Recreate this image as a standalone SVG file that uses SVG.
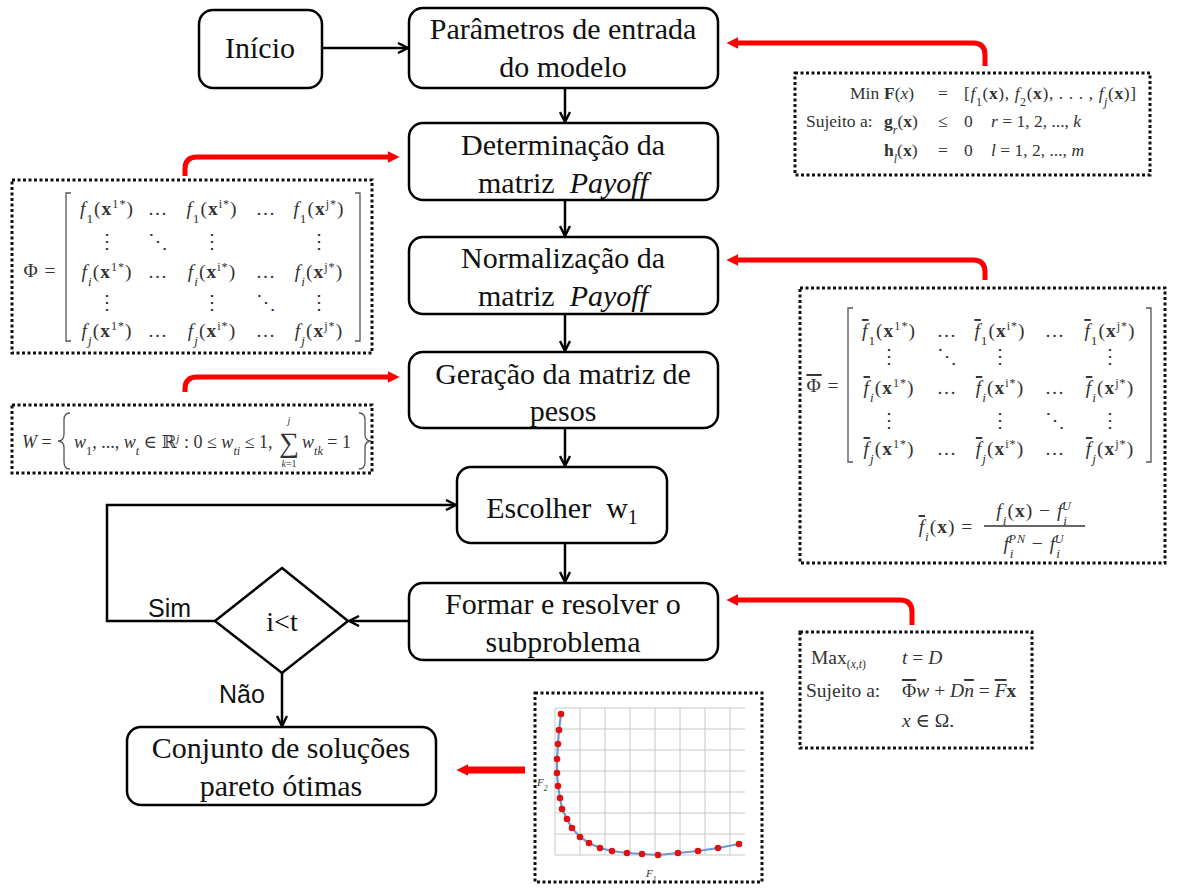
<svg xmlns="http://www.w3.org/2000/svg" width="1177" height="889" viewBox="0 0 1177 889">
  <style>
    .box { fill: #fff; stroke: #000; stroke-width: 2.5; }
    .lbl { font-family: "Liberation Serif", "Times New Roman", serif; font-size: 30px; fill: #111; text-anchor: middle; }
    .sans { font-family: "Liberation Sans", Arial, sans-serif; font-size: 25px; fill: #111; }
    .flow { fill: none; stroke: #000; stroke-width: 2.5; marker-end: url(#chev); }
    .red { fill: none; stroke: #f00; stroke-width: 5; marker-end: url(#tri); }
    .dot { fill: #fff; stroke: #111; stroke-width: 3; stroke-dasharray: 3 2.5; }
    .m { font-family: "Liberation Serif", "DejaVu Serif", serif; fill: #333; }
    .mx { letter-spacing: 1px; }
    .c { text-anchor: middle; }
    .i { font-style: italic; }
    .b { font-weight: bold; }
    .sb { font-size: 68%; baseline-shift: sub; }
    .sp { font-size: 62%; baseline-shift: super; }
    .ov { text-decoration: overline; }
    .brk { fill: none; stroke: #555; stroke-width: 1.3; }
    .grid { stroke: #c8c8c8; stroke-width: 1; }
  </style>
  <defs>
    <marker id="chev" viewBox="0 0 12 12" refX="11" refY="6" markerWidth="12" markerHeight="12" markerUnits="userSpaceOnUse" orient="auto">
      <path d="M1,1 L11,6 L1,11" fill="none" stroke="#000" stroke-width="2.4"/>
    </marker>
    <marker id="tri" viewBox="0 0 10 10" refX="2" refY="5" markerWidth="12" markerHeight="14" markerUnits="userSpaceOnUse" orient="auto">
      <path d="M0,0 L10,5 L0,10 z" fill="#f00"/>
    </marker>
  </defs>

  <!-- flow connectors -->
  <g id="connectors">
    <path class="flow" d="M322,48 H408"/>
    <path class="flow" d="M565,88 V122"/>
    <path class="flow" d="M565,200 V236"/>
    <path class="flow" d="M565,314 V351"/>
    <path class="flow" d="M565,428 V466"/>
    <path class="flow" d="M565,543 V582"/>
    <path class="flow" d="M409,621 H349"/>
    <path class="flow" d="M215,621 H107 V505 H456"/>
    <path class="flow" d="M282,673 V726"/>
    <text class="sans" x="148" y="617">Sim</text>
    <text class="sans" x="219" y="703">Não</text>
    <!-- annotation arrows -->
    <path class="red" d="M985,66 V55 Q985,43 973,43 H736"/>
    <path class="red" d="M185,176 V169 Q185,157 197,157 H390"/>
    <path class="red" d="M985,280 V272 Q985,260 973,260 H736"/>
    <path class="red" d="M185,392 V389 Q185,377 197,377 H390"/>
    <path class="red" d="M912,625 V612 Q912,600 900,600 H736"/>
    <path class="red" d="M525,770 H466" style="stroke-width:7"/>
  </g>

  <!-- process nodes -->
  <g id="inicio">
    <rect class="box" x="199" y="10" width="123" height="78" rx="14"/>
    <text class="lbl" x="260" y="58">Início</text>
  </g>
  <g id="parametros">
    <rect class="box" x="409" y="8" width="309" height="80" rx="14"/>
    <text class="lbl" x="563" y="39">Parâmetros de entrada</text>
    <text class="lbl" x="563" y="77">do modelo</text>
  </g>
  <g id="determinacao">
    <rect class="box" x="409" y="123" width="309" height="77" rx="14"/>
    <text class="lbl" x="563" y="155">Determinação da</text>
    <text class="lbl" x="563" y="193">matriz&#160; <tspan class="i">Payoff</tspan></text>
  </g>
  <g id="normalizacao">
    <rect class="box" x="409" y="237" width="309" height="77" rx="14"/>
    <text class="lbl" x="563" y="268">Normalização da</text>
    <text class="lbl" x="563" y="306">matriz&#160; <tspan class="i">Payoff</tspan></text>
  </g>
  <g id="geracao">
    <rect class="box" x="409" y="352" width="309" height="76" rx="14"/>
    <text class="lbl" x="563" y="384">Geração da matriz de</text>
    <text class="lbl" x="563" y="421">pesos</text>
  </g>
  <g id="escolher">
    <rect class="box" x="457" y="467" width="210" height="76" rx="14"/>
    <text class="lbl" x="562" y="518">Escolher&#160; w<tspan style="font-size:20px" baseline-shift="-6">1</tspan></text>
  </g>
  <g id="formar">
    <rect class="box" x="409" y="583" width="309" height="77" rx="14"/>
    <text class="lbl" x="563" y="614">Formar e resolver o</text>
    <text class="lbl" x="563" y="652">subproblema</text>
  </g>
  <g id="decisao">
    <polygon class="box" points="282,568 348,621 282,673 215,621"/>
    <text class="lbl" x="282" y="631" style="font-size:28px">i&lt;t</text>
  </g>
  <g id="conjunto">
    <rect class="box" x="127" y="727" width="309" height="78" rx="14"/>
    <text class="lbl" x="281" y="758">Conjunto de soluções</text>
    <text class="lbl" x="281" y="796">pareto ótimas</text>
  </g>

  <!-- model formulation -->
  <g id="modelo">
    <rect class="dot" x="795" y="73" width="355" height="102"/>
    <g class="m" style="font-size:17.5px">
      <text x="850" y="99">Min</text>
      <text x="884" y="99"><tspan class="b">F</tspan>(<tspan class="i">x</tspan>)</text>
      <text x="938" y="99">=</text>
      <text x="964" y="99" class="mx" style="letter-spacing:0.6px">[<tspan class="i">f</tspan><tspan class="sb">1</tspan>(<tspan class="b">x</tspan>), <tspan class="i">f</tspan><tspan class="sb">2</tspan>(<tspan class="b">x</tspan>), . . . , <tspan class="i">f</tspan><tspan class="sb i">j</tspan>(<tspan class="b">x</tspan>)]</text>
      <text x="806" y="127">Sujeito a:</text>
      <text x="884" y="127"><tspan class="b">g</tspan><tspan class="sb i">r</tspan>(<tspan class="b">x</tspan>)</text>
      <text x="938" y="127">≤</text>
      <text x="964" y="127">0</text>
      <text x="991" y="127"><tspan class="i">r</tspan> = 1, 2, ..., <tspan class="i">k</tspan></text>
      <text x="884" y="156"><tspan class="b">h</tspan><tspan class="sb i">l</tspan>(<tspan class="b">x</tspan>)</text>
      <text x="938" y="156">=</text>
      <text x="964" y="156">0</text>
      <text x="991" y="156"><tspan class="i">l</tspan> = 1, 2, ..., <tspan class="i">m</tspan></text>
    </g>
  </g>

  <!-- payoff matrix -->
  <g id="payoff">
    <rect class="dot" x="12" y="180" width="360" height="173"/>
    <path class="brk" d="M71,193 H66 V341 H71 M355,193 H360 V341 H355"/>
    <g class="m c mx" style="font-size:19.5px">
      <text x="40" y="277">Φ =</text>
      <text x="107" y="215"><tspan class="i">f</tspan><tspan class="sb">1</tspan>(<tspan class="b">x</tspan><tspan class="sp">1*</tspan>)</text>
      <text x="158" y="215">…</text>
      <text x="212" y="215"><tspan class="i">f</tspan><tspan class="sb">1</tspan>(<tspan class="b">x</tspan><tspan class="sp">i*</tspan>)</text>
      <text x="266" y="215">…</text>
      <text x="319" y="215"><tspan class="i">f</tspan><tspan class="sb">1</tspan>(<tspan class="b">x</tspan><tspan class="sp">j*</tspan>)</text>
      <text x="107" y="248">⋮</text>
      <text x="158" y="248">⋱</text>
      <text x="212" y="248">⋮</text>
      <text x="319" y="248">⋮</text>
      <text x="107" y="278"><tspan class="i">f</tspan><tspan class="sb i">i</tspan>(<tspan class="b">x</tspan><tspan class="sp">1*</tspan>)</text>
      <text x="158" y="278">…</text>
      <text x="212" y="278"><tspan class="i">f</tspan><tspan class="sb i">i</tspan>(<tspan class="b">x</tspan><tspan class="sp">i*</tspan>)</text>
      <text x="266" y="278">…</text>
      <text x="319" y="278"><tspan class="i">f</tspan><tspan class="sb i">i</tspan>(<tspan class="b">x</tspan><tspan class="sp">j*</tspan>)</text>
      <text x="107" y="309">⋮</text>
      <text x="212" y="309">⋮</text>
      <text x="266" y="309">⋱</text>
      <text x="319" y="309">⋮</text>
      <text x="107" y="337"><tspan class="i">f</tspan><tspan class="sb i">j</tspan>(<tspan class="b">x</tspan><tspan class="sp">1*</tspan>)</text>
      <text x="158" y="337">…</text>
      <text x="212" y="337"><tspan class="i">f</tspan><tspan class="sb i">j</tspan>(<tspan class="b">x</tspan><tspan class="sp">i*</tspan>)</text>
      <text x="266" y="337">…</text>
      <text x="319" y="337"><tspan class="i">f</tspan><tspan class="sb i">j</tspan>(<tspan class="b">x</tspan><tspan class="sp">j*</tspan>)</text>
    </g>
  </g>

  <!-- normalised payoff matrix -->
  <g id="payoff-normalizada">
    <rect class="dot" x="800" y="288" width="365" height="275"/>
    <path class="brk" d="M853,308 H848 V462 H853 M1146,308 H1151 V462 H1146"/>
    <g class="m c mx" style="font-size:19.5px">
      <text x="823" y="392"><tspan class="ov">Φ</tspan> =</text>
      <text x="889" y="337"><tspan class="i ov">f</tspan><tspan class="sb">1</tspan>(<tspan class="b">x</tspan><tspan class="sp">1*</tspan>)</text>
      <text x="947" y="337">…</text>
      <text x="1000" y="337"><tspan class="i ov">f</tspan><tspan class="sb">1</tspan>(<tspan class="b">x</tspan><tspan class="sp">i*</tspan>)</text>
      <text x="1055" y="337">…</text>
      <text x="1110" y="337"><tspan class="i ov">f</tspan><tspan class="sb">1</tspan>(<tspan class="b">x</tspan><tspan class="sp">j*</tspan>)</text>
      <text x="889" y="363">⋮</text>
      <text x="947" y="363">⋱</text>
      <text x="1000" y="363">⋮</text>
      <text x="1110" y="363">⋮</text>
      <text x="889" y="394"><tspan class="i ov">f</tspan><tspan class="sb i">i</tspan>(<tspan class="b">x</tspan><tspan class="sp">1*</tspan>)</text>
      <text x="947" y="394">…</text>
      <text x="1000" y="394"><tspan class="i ov">f</tspan><tspan class="sb i">i</tspan>(<tspan class="b">x</tspan><tspan class="sp">i*</tspan>)</text>
      <text x="1055" y="394">…</text>
      <text x="1110" y="394"><tspan class="i ov">f</tspan><tspan class="sb i">i</tspan>(<tspan class="b">x</tspan><tspan class="sp">j*</tspan>)</text>
      <text x="889" y="427">⋮</text>
      <text x="1000" y="427">⋮</text>
      <text x="1055" y="427">⋱</text>
      <text x="1110" y="427">⋮</text>
      <text x="889" y="455"><tspan class="i ov">f</tspan><tspan class="sb i">j</tspan>(<tspan class="b">x</tspan><tspan class="sp">1*</tspan>)</text>
      <text x="947" y="455">…</text>
      <text x="1000" y="455"><tspan class="i ov">f</tspan><tspan class="sb i">j</tspan>(<tspan class="b">x</tspan><tspan class="sp">i*</tspan>)</text>
      <text x="1055" y="455">…</text>
      <text x="1110" y="455"><tspan class="i ov">f</tspan><tspan class="sb i">j</tspan>(<tspan class="b">x</tspan><tspan class="sp">j*</tspan>)</text>
      <text x="946" y="533"><tspan class="i ov">f</tspan><tspan class="sb i">i</tspan>(<tspan class="b">x</tspan>) =</text>
      <text x="1034" y="517"><tspan class="i">f</tspan><tspan class="sb i">i</tspan>(<tspan class="b">x</tspan>) − <tspan class="i">f</tspan><tspan class="sb i">i</tspan><tspan class="sp i" dx="-6">U</tspan></text>
      <text x="1034" y="550"><tspan class="i">f</tspan><tspan class="sb i">i</tspan><tspan class="sp i" dx="-6">PN</tspan> − <tspan class="i">f</tspan><tspan class="sb i">i</tspan><tspan class="sp i" dx="-6">U</tspan></text>
    </g>
    <line x1="984" y1="526" x2="1085" y2="526" stroke="#333" stroke-width="1.3"/>
  </g>

  <!-- weight set -->
  <g id="pesos">
    <rect class="dot" x="12" y="405" width="360" height="68"/>
    <path class="brk" d="M70,413 Q64,413 64,420 V434 Q64,441 58,441 Q64,441 64,448 V462 Q64,469 70,469"/>
    <path class="brk" d="M359,413 Q365,413 365,420 V434 Q365,441 371,441 Q365,441 365,448 V462 Q365,469 359,469"/>
    <g class="m" style="font-size:18px">
      <text x="22" y="448"><tspan class="i">W</tspan> =</text>
      <text x="74" y="448"><tspan class="i">w</tspan><tspan class="sb">1</tspan>, ..., <tspan class="i">w</tspan><tspan class="sb i">t</tspan> ∈ ℝ<tspan class="sp i">j</tspan> : 0 ≤ <tspan class="i">w</tspan><tspan class="sb i">ti</tspan> ≤ 1,</text>
      <text x="289" y="452" class="c" style="font-size:28px">∑</text>
      <text x="289" y="424" class="c i" style="font-size:10px">j</text>
      <text x="289" y="467" class="c" style="font-size:10px"><tspan class="i">k</tspan>=1</text>
      <text x="302" y="448"><tspan class="i">w</tspan><tspan class="sb i">tk</tspan> = 1</text>
    </g>
  </g>

  <!-- subproblem -->
  <g id="subproblema">
    <rect class="dot" x="800" y="632" width="232" height="116"/>
    <g class="m" style="font-size:19.5px">
      <text x="811" y="664">Max<tspan style="font-size:60%" baseline-shift="-4">(<tspan class="i">x</tspan>,<tspan class="i">t</tspan>)</tspan></text>
      <text x="902" y="664"><tspan class="i">t</tspan> = <tspan class="i">D</tspan></text>
      <text x="806" y="697">Sujeito a:</text>
      <text x="902" y="697"><tspan class="ov">Φ</tspan><tspan class="i">w</tspan> + <tspan class="i">D</tspan><tspan class="i ov">n</tspan> = <tspan class="i ov">F</tspan><tspan class="b">x</tspan></text>
      <text x="902" y="727"><tspan class="i">x</tspan> ∈ Ω.</text>
    </g>
  </g>

  <!-- pareto front chart -->
  <g id="grafico">
    <rect class="dot" x="535" y="693" width="227" height="189"/>
    <g class="grid">
      <line x1="555" y1="708" x2="555" y2="855"/>
      <line x1="580" y1="708" x2="580" y2="855"/>
      <line x1="605" y1="708" x2="605" y2="855"/>
      <line x1="630" y1="708" x2="630" y2="855"/>
      <line x1="655" y1="708" x2="655" y2="855"/>
      <line x1="680" y1="708" x2="680" y2="855"/>
      <line x1="705" y1="708" x2="705" y2="855"/>
      <line x1="730" y1="708" x2="730" y2="855"/>
      <line x1="555" y1="708" x2="745" y2="708"/>
      <line x1="555" y1="729" x2="745" y2="729"/>
      <line x1="555" y1="750" x2="745" y2="750"/>
      <line x1="555" y1="771" x2="745" y2="771"/>
      <line x1="555" y1="792" x2="745" y2="792"/>
      <line x1="555" y1="813" x2="745" y2="813"/>
      <line x1="555" y1="834" x2="745" y2="834"/>
      <line x1="555" y1="855" x2="745" y2="855"/>
    </g>
    <polyline fill="none" stroke="#6a9ad6" stroke-width="2.2" points="561,714 559,730 558,744 557,759 557,773 558,786 560,798 562,809 567,819 572,828 580,837 589,843 600,848 612,851 627,853 642,854 658,855 678,853 698,851 718,848 739,844"/>
    <g fill="#e21010">
      <circle cx="561" cy="714" r="3.3"/><circle cx="559" cy="730" r="3.3"/><circle cx="558" cy="744" r="3.3"/>
      <circle cx="557" cy="759" r="3.3"/><circle cx="557" cy="773" r="3.3"/><circle cx="558" cy="786" r="3.3"/>
      <circle cx="560" cy="798" r="3.3"/><circle cx="562" cy="809" r="3.3"/><circle cx="567" cy="819" r="3.3"/>
      <circle cx="572" cy="828" r="3.3"/><circle cx="580" cy="837" r="3.3"/><circle cx="589" cy="843" r="3.3"/>
      <circle cx="600" cy="848" r="3.3"/><circle cx="612" cy="851" r="3.3"/><circle cx="627" cy="853" r="3.3"/>
      <circle cx="642" cy="854" r="3.3"/><circle cx="658" cy="855" r="3.3"/><circle cx="678" cy="853" r="3.3"/>
      <circle cx="698" cy="851" r="3.3"/><circle cx="718" cy="848" r="3.3"/><circle cx="739" cy="844" r="3.3"/>
    </g>
    <text class="m i" x="537" y="786" style="font-size:11px">F<tspan class="sb">2</tspan></text>
    <text class="m i" x="646" y="877" style="font-size:11px">F<tspan class="sb">1</tspan></text>
  </g>
</svg>
